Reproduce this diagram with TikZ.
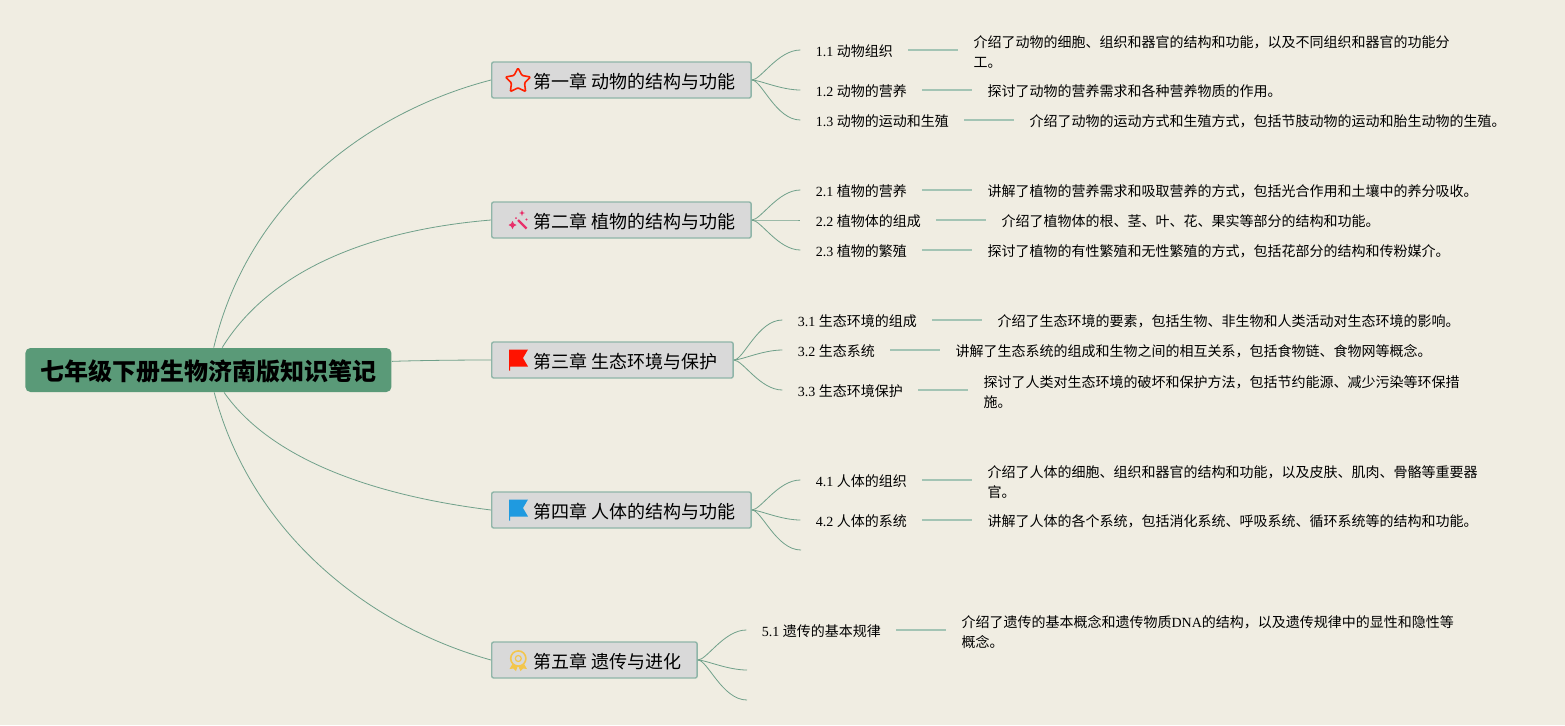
\documentclass[tikz,border=0pt]{standalone}
\usepackage{fontspec}
\setmainfont{Liberation Serif}
\newfontfamily\cjk{Noto Sans CJK SC}
\usetikzlibrary{positioning,shapes.geometric}
\definecolor{paper}{HTML}{F0EDE2}
\definecolor{branch}{HTML}{6FA08A}
\definecolor{stub}{HTML}{A3C4B4}
\definecolor{rootfill}{HTML}{5A9A78}
\definecolor{chapfill}{HTML}{D9D9D9}
\definecolor{chapline}{HTML}{8FB5A8}
\definecolor{wandpink}{HTML}{E8306A}
\definecolor{flagblue}{HTML}{1F9AE0}
\definecolor{medal}{HTML}{F3C64C}
\tikzset{
	rootbox/.style={fill=rootfill,rounded corners=2.5pt,inner xsep=7.5pt,minimum height=22pt,text height=11.8pt,text depth=1.2pt,anchor=west,font=\cjk\bfseries\fontsize{12}{14}\selectfont},
	chapbox/.style={draw=chapline,fill=chapfill,line width=0.7pt,rounded corners=1pt,inner xsep=7.7pt,minimum height=18pt,text height=9.5pt,text depth=1pt,anchor=west,font=\cjk\fontsize{9}{11}\selectfont},
	subbox/.style={inner xsep=7.5pt,inner ysep=2pt,text height=7.2pt,text depth=0.8pt,anchor=west,xshift=-0.3pt,font=\fontsize{7}{10}\selectfont},
	descbox/.style={inner xsep=7.5pt,inner ysep=2pt,text height=7.2pt,align=left,right=25pt of #1,font=\cjk\fontsize{7}{10}\selectfont},
	wrapbox/.style={descbox=#1,text height=17.6pt},
	link/.style={draw=branch,line width=0.4pt},
	twig/.style={link,out=0,in=180,out looseness=0.4,in looseness=1},
	leaf/.style={draw=stub,line width=0.6pt}
}
\begin{document}
\begin{tikzpicture}[x=0.5pt,y=-0.5pt]
			\fill[paper] (0,0) rectangle (1565,725);
			\useasboundingbox (0,0) rectangle (1565,725);
			
			\node[rootbox] (root) at (25,370) {七年级下册生物济南版知识笔记};
			\node[chapbox] (ch1) at (491,80) {\hspace*{13.3pt}第一章 动物的结构与功能};
			\node[chapbox] (ch2) at (491,220) {\hspace*{13.3pt}第二章 植物的结构与功能};
			\node[chapbox] (ch3) at (491,360) {\hspace*{13.3pt}第三章 生态环境与保护};
			\node[chapbox] (ch4) at (491,510) {\hspace*{13.3pt}第四章 人体的结构与功能};
			\node[chapbox] (ch5) at (491,660) {\hspace*{13.3pt}第五章 遗传与进化};
			
			\draw[link] (root) .. controls (250,195) and (375,110) .. (ch1.west);
			\draw[link] (root) .. controls (270,270) and (370,230) .. (ch2.west);
			\draw[link] (root) .. controls (400,361) and (440,360) .. (ch3.west);
			\draw[link] (root) .. controls (270,458) and (370,495) .. (ch4.west);
			\draw[link] (root) .. controls (250,530) and (365,625) .. (ch5.west);
			
			% chapter 1
			\node[subbox] (s11) at (801,50) {1.1 {\cjk 动物组织}};
			\node[subbox] (s12) at (801,90) {1.2 {\cjk 动物的营养}};
			\node[subbox] (s13) at (801,120) {1.3 {\cjk 动物的运动和生殖}};
			\node[wrapbox=s11] (d11) {介绍了动物的细胞、组织和器官的结构和功能，以及不同组织和器官的功能分\\工。};
			\node[descbox=s12] (d12) {探讨了动物的营养需求和各种营养物质的作用。};
			\node[descbox=s13] (d13) {介绍了动物的运动方式和生殖方式，包括节肢动物的运动和胎生动物的生殖。};
			\draw[twig] (ch1.east) to (s11.west);
			\draw[twig] (ch1.east) to (s12.west);
			\draw[twig] (ch1.east) to (s13.west);
			\draw[leaf] (s11) -- (d11);
			\draw[leaf] (s12) -- (d12);
			\draw[leaf] (s13) -- (d13);
			
			% chapter 2
			\node[subbox] (s21) at (801,190) {2.1 {\cjk 植物的营养}};
			\node[subbox] (s22) at (801,220) {2.2 {\cjk 植物体的组成}};
			\node[subbox] (s23) at (801,250) {2.3 {\cjk 植物的繁殖}};
			\node[descbox=s21] (d21) {讲解了植物的营养需求和吸取营养的方式，包括光合作用和土壤中的养分吸收。};
			\node[descbox=s22] (d22) {介绍了植物体的根、茎、叶、花、果实等部分的结构和功能。};
			\node[descbox=s23] (d23) {探讨了植物的有性繁殖和无性繁殖的方式，包括花部分的结构和传粉媒介。};
			\draw[twig] (ch2.east) to (s21.west);
			\draw[twig] (ch2.east) to (s22.west);
			\draw[twig] (ch2.east) to (s23.west);
			\draw[leaf] (s21) -- (d21);
			\draw[leaf] (s22) -- (d22);
			\draw[leaf] (s23) -- (d23);
			
			% chapter 3
			\node[subbox] (s31) at (783,320) {3.1 {\cjk 生态环境的组成}};
			\node[subbox] (s32) at (783,350) {3.2 {\cjk 生态系统}};
			\node[subbox] (s33) at (783,390) {3.3 {\cjk 生态环境保护}};
			\node[descbox=s31] (d31) {介绍了生态环境的要素，包括生物、非生物和人类活动对生态环境的影响。};
			\node[descbox=s32] (d32) {讲解了生态系统的组成和生物之间的相互关系，包括食物链、食物网等概念。};
			\node[wrapbox=s33] (d33) {探讨了人类对生态环境的破坏和保护方法，包括节约能源、减少污染等环保措\\施。};
			\draw[twig] (ch3.east) to (s31.west);
			\draw[twig] (ch3.east) to (s32.west);
			\draw[twig] (ch3.east) to (s33.west);
			\draw[leaf] (s31) -- (d31);
			\draw[leaf] (s32) -- (d32);
			\draw[leaf] (s33) -- (d33);
			
			% chapter 4
			\node[subbox] (s41) at (801,480) {4.1 {\cjk 人体的组织}};
			\node[subbox] (s42) at (801,520) {4.2 {\cjk 人体的系统}};
			\coordinate (e43) at (801,550);
			\node[wrapbox=s41] (d41) {介绍了人体的细胞、组织和器官的结构和功能，以及皮肤、肌肉、骨骼等重要器\\官。};
			\node[descbox=s42] (d42) {讲解了人体的各个系统，包括消化系统、呼吸系统、循环系统等的结构和功能。};
			\draw[twig] (ch4.east) to (s41.west);
			\draw[twig] (ch4.east) to (s42.west);
			\draw[twig] (ch4.east) to (e43);
			\draw[leaf] (s41) -- (d41);
			\draw[leaf] (s42) -- (d42);
			
			% chapter 5
			\node[subbox] (s51) at (747,630) {5.1 {\cjk 遗传的基本规律}};
			\coordinate (e52) at (747,670);
			\coordinate (e53) at (747,700);
			\node[wrapbox=s51] (d51) {介绍了遗传的基本概念和遗传物质{\rmfamily DNA}的结构，以及遗传规律中的显性和隐性等\\概念。};
			\draw[twig] (ch5.east) to (s51.west);
			\draw[twig] (ch5.east) to (e52);
			\draw[twig] (ch5.east) to (e53);
			\draw[leaf] (s51) -- (d51);
			
			% icons
			\node[star,star points=5,star point ratio=1.9,draw=red!75!orange,line width=0.8pt,rounded corners=0.5pt,inner sep=0pt,minimum size=13pt] (star1) at (518,81) {};
			\draw[wandpink,line width=1.1pt] (518,220) -- (526.5,228.5);
			\fill[wandpink] (512.5,221) -- (514,223.7) -- (516.5,225) -- (514,226.3) -- (512.5,229) -- (511,226.3) -- (508.5,225) -- (511,223.7) -- cycle;
			\fill[wandpink] (522,210) -- (522.8,212.3) -- (525,213) -- (522.8,213.7) -- (522,216) -- (521.2,213.7) -- (519,213) -- (521.2,212.3) -- cycle;
			\fill[wandpink] (526.5,219.5) circle (0.6pt);
			\fill[wandpink] (516,218) circle (0.5pt);
			\fill[red!85!orange] (509,349.5) -- (528,349.5) -- (523,358) -- (528,366.5) -- (510,366.5) -- (510,370.5) -- (509,370.5) -- cycle;
			\fill[flagblue] (509,499.5) -- (528,499.5) -- (523,508) -- (528,516.5) -- (510,516.5) -- (510,520.5) -- (509,520.5) -- cycle;
			\fill[medal] (513,663) -- (509.5,669) -- (513.5,668.5) -- (516,671) -- (518,665.5) -- (520.5,671) -- (523,668.5) -- (527,669) -- (523.5,663) -- cycle;
			\draw[medal,fill=chapfill,line width=0.8pt] (518.3,658.5) circle (3.8pt);
			\draw[medal,line width=0.6pt] (518.3,658.5) circle (1.5pt);
\end{tikzpicture}
\end{document}
